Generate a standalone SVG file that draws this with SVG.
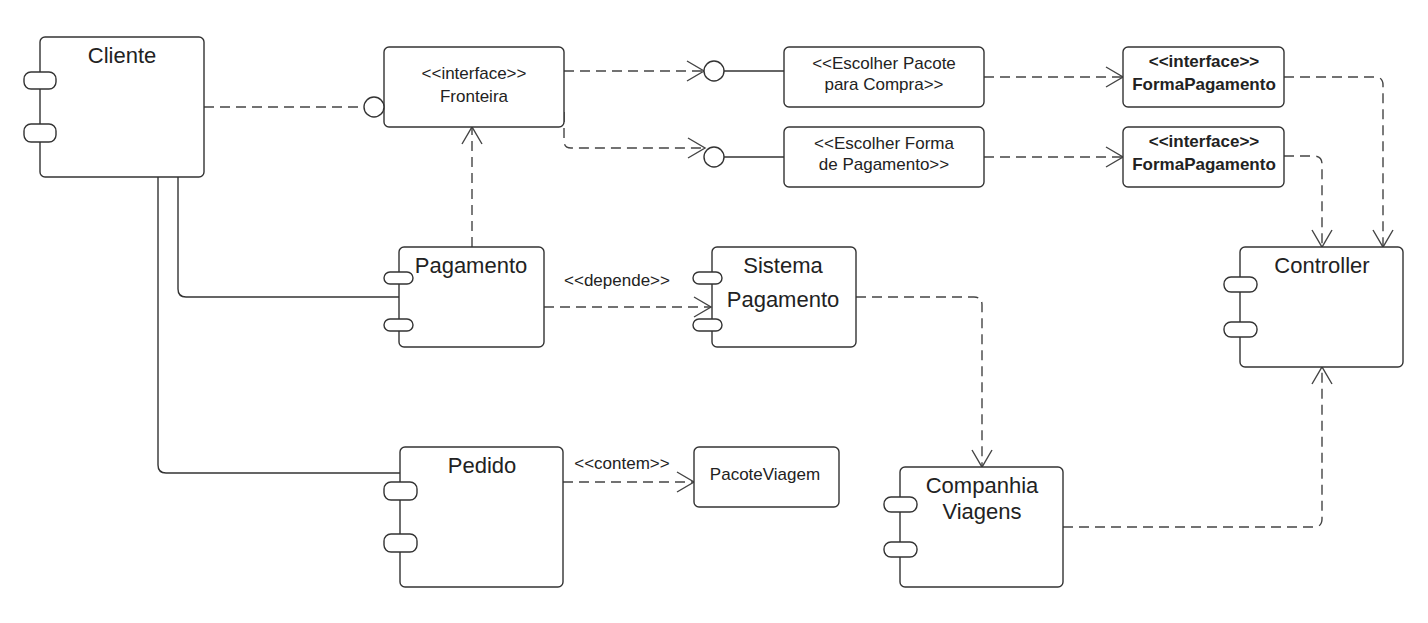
<svg xmlns="http://www.w3.org/2000/svg" width="1428" height="623" viewBox="0 0 1428 623">
<style>
.box{fill:#fff;stroke:#333;stroke-width:1.4}
.port{fill:#fff;stroke:#333;stroke-width:1.4}
.sol{fill:none;stroke:#333;stroke-width:1.4}
.dash{fill:none;stroke:#444;stroke-width:1.4;stroke-dasharray:10 6;marker-end:url(#arr)}
.dashn{fill:none;stroke:#444;stroke-width:1.4;stroke-dasharray:10 6}
.big{font-family:"Liberation Sans",Arial,sans-serif;font-size:22px;fill:#222;text-anchor:middle}
.sm{font-family:"Liberation Sans",Arial,sans-serif;font-size:17px;fill:#222;text-anchor:middle}
.smb{font-family:"Liberation Sans",Arial,sans-serif;font-size:17px;fill:#222;text-anchor:middle;font-weight:bold}
</style>
<defs>
<marker id="arr" viewBox="-20 -12 22 24" refX="0" refY="0" markerWidth="22" markerHeight="24" markerUnits="userSpaceOnUse" orient="auto">
<path d="M-17,-10 L0,0 L-17,10" fill="none" stroke="#444" stroke-width="1.4"/>
</marker>
</defs>
<rect width="1428" height="623" fill="#fff"/>
<g id="connectors">
<path class="dashn" d="M204,107 H364"/>
<path class="dash" d="M564,71 H704"/>
<path class="dash" d="M564,112 V141 Q564,148 571,148 H705"/>
<path class="sol" d="M724,71 H784"/>
<path class="sol" d="M724,157 H784"/>
<path class="dash" d="M984,77 H1123"/>
<path class="dash" d="M984,157 H1123"/>
<path class="dash" d="M1284,77 H1375 Q1383,77 1383,85 V247"/>
<path class="dash" d="M1284,156 H1314 Q1322,156 1322,164 V247"/>
<path class="sol" d="M178,177 V289 Q178,297 186,297 H399"/>
<path class="sol" d="M158,177 V465 Q158,473 166,473 H400"/>
<path class="dash" d="M472,247 V127"/>
<path class="dash" d="M544,307 H711"/>
<path class="dash" d="M856,297 H974 Q982,297 982,305 V467"/>
<path class="dash" d="M563,482 H694"/>
<path class="dash" d="M1063,527 H1314 Q1322,527 1322,519 V367"/>
<text class="sm" x="617" y="286">&lt;&lt;depende&gt;&gt;</text>
<text class="sm" x="622" y="469">&lt;&lt;contem&gt;&gt;</text>
</g>
<g id="cliente">
<rect class="box" x="40" y="37" width="164" height="140" rx="5"/>
<rect class="port" x="24" y="72" width="32" height="17" rx="7"/>
<rect class="port" x="24" y="124" width="32" height="18" rx="7"/>
<text class="big" x="122" y="63">Cliente</text>
</g>
<g id="fronteira">
<rect class="box" x="384" y="47" width="180" height="80" rx="5"/>
<circle class="port" cx="374" cy="107" r="10"/>
<text class="sm" x="474" y="79">&lt;&lt;interface&gt;&gt;</text>
<text class="sm" x="474" y="102">Fronteira</text>
</g>
<g id="escolherPacote">
<circle class="port" cx="714" cy="71" r="10"/>
<rect class="box" x="784" y="47" width="200" height="60" rx="5"/>
<text class="sm" x="884" y="69">&lt;&lt;Escolher Pacote</text>
<text class="sm" x="884" y="90">para Compra&gt;&gt;</text>
</g>
<g id="escolherForma">
<circle class="port" cx="714" cy="157" r="10"/>
<rect class="box" x="784" y="127" width="200" height="60" rx="5"/>
<text class="sm" x="884" y="149">&lt;&lt;Escolher Forma</text>
<text class="sm" x="884" y="170">de Pagamento&gt;&gt;</text>
</g>
<g id="formaPagamento1">
<rect class="box" x="1123" y="47" width="161" height="60" rx="5"/>
<text class="smb" x="1204" y="67">&lt;&lt;interface&gt;&gt;</text>
<text class="smb" x="1204" y="90">FormaPagamento</text>
</g>
<g id="formaPagamento2">
<rect class="box" x="1123" y="127" width="161" height="60" rx="5"/>
<text class="smb" x="1204" y="147">&lt;&lt;interface&gt;&gt;</text>
<text class="smb" x="1204" y="170">FormaPagamento</text>
</g>
<g id="pagamento">
<rect class="box" x="399" y="247" width="145" height="100" rx="5"/>
<rect class="port" x="384" y="272" width="29" height="12" rx="6"/>
<rect class="port" x="384" y="319" width="29" height="12" rx="6"/>
<text class="big" x="471" y="273">Pagamento</text>
</g>
<g id="sistemaPagamento">
<rect class="box" x="712" y="247" width="144" height="100" rx="5"/>
<rect class="port" x="693" y="272" width="29" height="12" rx="6"/>
<rect class="port" x="693" y="319" width="29" height="12" rx="6"/>
<text class="big" x="783" y="273">Sistema</text>
<text class="big" x="783" y="307">Pagamento</text>
</g>
<g id="pedido">
<rect class="box" x="400" y="447" width="163" height="140" rx="5"/>
<rect class="port" x="384" y="482" width="33" height="18" rx="7"/>
<rect class="port" x="384" y="534" width="33" height="18" rx="7"/>
<text class="big" x="482" y="473">Pedido</text>
</g>
<g id="pacoteViagem">
<rect class="box" x="694" y="447" width="145" height="60" rx="5"/>
<text class="sm" x="765" y="480">PacoteViagem</text>
</g>
<g id="companhiaViagens">
<rect class="box" x="900" y="467" width="163" height="120" rx="5"/>
<rect class="port" x="884" y="497" width="33" height="15" rx="7"/>
<rect class="port" x="884" y="542" width="33" height="15" rx="7"/>
<text class="big" x="982" y="493">Companhia</text>
<text class="big" x="982" y="519">Viagens</text>
</g>
<g id="controller">
<rect class="box" x="1240" y="247" width="163" height="120" rx="5"/>
<rect class="port" x="1224" y="277" width="33" height="15" rx="7"/>
<rect class="port" x="1224" y="322" width="33" height="15" rx="7"/>
<text class="big" x="1322" y="273">Controller</text>
</g>
</svg>
